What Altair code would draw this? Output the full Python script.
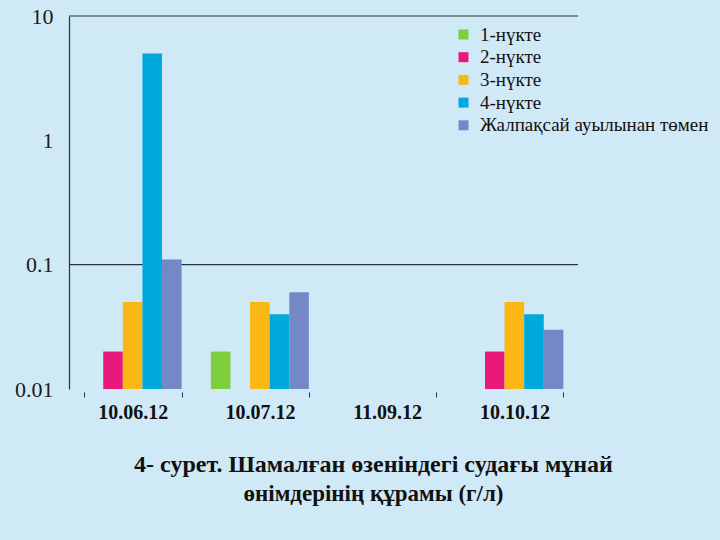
import altair as alt
import pandas as pd

dates = ["10.06.12", "10.07.12", "11.09.12", "10.10.12"]
series = ["1-нүкте", "2-нүкте", "3-нүкте", "4-нүкте", "Жалпақсай ауылынан төмен"]
colors = ["#7dcf3d", "#e8197a", "#fbb713", "#00a9dc", "#7588c6"]

v1 = [None, 0.02, None, None]
v2 = [0.02, None, None, 0.02]
v3 = [0.05, 0.05, None, 0.05]
v4 = [5.0, 0.04, None, 0.04]
v5 = [0.11, 0.06, None, 0.03]
y_ticks = [0.01, 0.1, 1, 10]
gridlines = [0.1, 10]
base_value = 0.01

title_line1 = "4- сурет. Шамалған өзеніндегі судағы мұнай"
title_line2 = "өнімдерінің құрамы (г/л)"

rows = []
for s, vals in zip(series, [v1, v2, v3, v4, v5]):
    for d, v in zip(dates, vals):
        if v is not None:
            rows.append({"date": d, "series": s, "value": v, "base": base_value})
df = pd.DataFrame(rows)
grid_df = pd.DataFrame({"g": gridlines})

FONT = "'Liberation Serif', 'Times New Roman', 'DejaVu Serif', serif"
DARK = "#253345"

yscale = alt.Scale(type="log", domain=[0.01, 10], nice=False)

bars = alt.Chart(df).mark_bar().encode(
    x=alt.X("date:N", sort=dates,
            scale=alt.Scale(domain=dates, paddingInner=0.23, paddingOuter=0.115),
            axis=alt.Axis(title=None, labelAngle=0, labelFont=FONT, labelFontSize=20,
                          labelFontWeight="bold", labelColor="#111111", domain=False,
                          tickBand="extent", tickColor=DARK, tickSize=5, tickOffset=0,
                          offset=3, labelPadding=5)),
    xOffset=alt.XOffset("series:N", sort=series,
                        scale=alt.Scale(domain=series, paddingInner=0, paddingOuter=0)),
    y=alt.Y("value:Q", scale=yscale,
            axis=alt.Axis(title=None, values=y_ticks, format="~g", grid=False,
                          ticks=False, domain=True, domainColor=DARK, domainWidth=1.2,
                          labelFont=FONT, labelFontSize=22, labelColor="#1a1a1a",
                          labelPadding=16)),
    y2="base:Q",
    color=alt.Color("series:N", sort=series,
                    scale=alt.Scale(domain=series, range=colors),
                    legend=alt.Legend(title=None, orient="none", legendX=385, legendY=9,
                                      symbolType="square", symbolSize=100,
                                      symbolStrokeWidth=0, labelFont=FONT,
                                      labelFontSize=19, labelColor="#111111",
                                      rowPadding=2.7, padding=0, labelOffset=7,
                                      labelLimit=400)),
)

rules = alt.Chart(grid_df).mark_rule(color=DARK, strokeWidth=1.2).encode(
    y=alt.Y("g:Q", scale=yscale)
)

chart = alt.layer(rules, bars).properties(
    width=509, height=373,
    autosize=alt.AutoSizeParams(type="none"),
    padding={"left": 69, "top": 16, "right": 142, "bottom": 151},
    background="#d0e9f7",
    title=alt.TitleParams(text=title_line1, subtitle=title_line2, orient="bottom",
                          font=FONT, fontSize=24, fontWeight="bold", color="#111111",
                          subtitleFont=FONT, subtitleFontSize=23,
                          subtitleFontWeight="bold", subtitleColor="#111111",
                          subtitlePadding=6, anchor="middle", dx=50, offset=31),
).configure_view(stroke=None)

chart.save("out.html", embed_options={"renderer": "svg", "actions": False})
